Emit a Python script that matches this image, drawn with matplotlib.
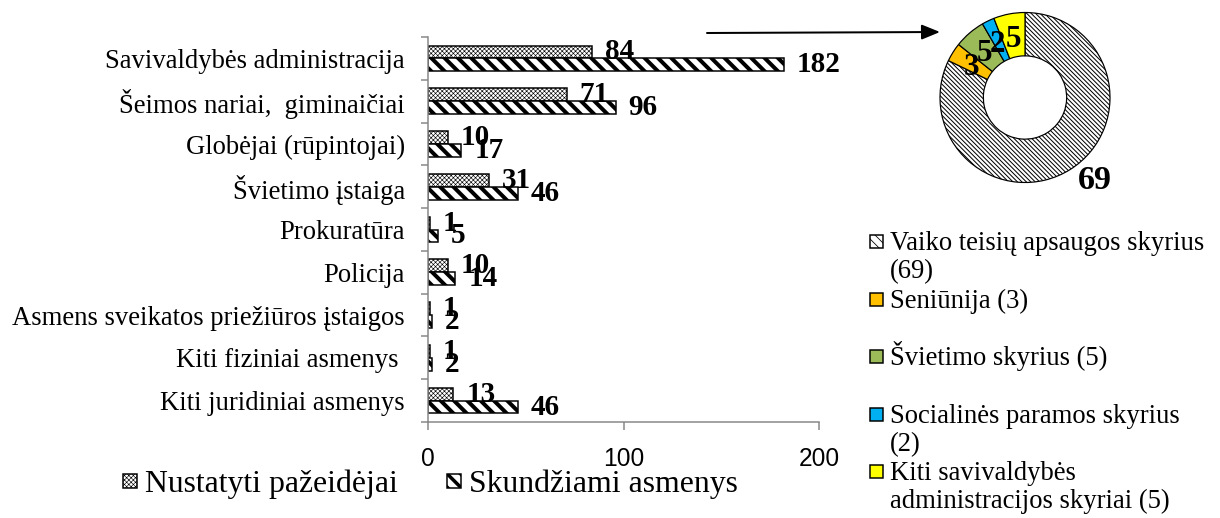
import matplotlib
matplotlib.use("Agg")
import matplotlib.pyplot as plt
from matplotlib import font_manager
from matplotlib.patches import Rectangle, FancyArrowPatch
import numpy as np

# ---------------- data ----------------
categories = ["Savivaldybės administracija", "Šeimos nariai,  giminaičiai",
              "Globėjai (rūpintojai)", "Švietimo įstaiga", "Prokuratūra",
              "Policija", "Asmens sveikatos priežiūros įstaigos",
              "Kiti fiziniai asmenys ", "Kiti juridiniai asmenys"]
nustatyti = [84, 71, 10, 31, 1, 10, 1, 1, 13]
skundziami = [182, 96, 17, 46, 5, 14, 2, 2, 46]
series_names = ["Nustatyti pažeidėjai", "Skundžiami asmenys"]
x_ticks = [0, 100, 200]

pie_names = ["Vaiko teisių apsaugos skyrius\n(69)", "Seniūnija (3)",
             "Švietimo skyrius (5)", "Socialinės paramos skyrius\n(2)",
             "Kiti savivaldybės\nadministracijos skyriai (5)"]
pie_values = [69, 3, 5, 2, 5]
pie_colors = ["white", "#FFC000", "#9BBB59", "#00B0F0", "#FFFF00"]

# ---------------- helpers ----------------
DPI = 80
W, H = 1220, 518


def fx(px):
    return px / W


def fy(py):
    return 1 - py / H


def pt(px):
    return px * 72.0 / DPI


def pick(*names):
    for n in names:
        try:
            font_manager.findfont(font_manager.FontProperties(family=n),
                                  fallback_to_default=False)
            return n
        except Exception:
            continue
    return "DejaVu Sans"


SERIF = pick("Liberation Serif", "DejaVu Serif")
NARROW = pick("Liberation Sans Narrow", "Liberation Sans", "DejaVu Sans")
plt.rcParams["font.family"] = [SERIF, "DejaVu Sans"]
GRAY = "#868686"
DOTS = "xxxxxx"
STRIPES = "\\\\"
FINE = "\\\\\\\\\\\\"


def hatch_lw(artist, lw):
    if hasattr(artist, "set_hatch_linewidth"):
        artist.set_hatch_linewidth(lw)


fig = plt.figure(figsize=(W / DPI, H / DPI), dpi=DPI)

# ---------------- bar chart ----------------
ax = fig.add_axes([fx(428), fy(422), (819 - 428) / W, (422 - 37) / H])
y = np.arange(len(categories))
h = 0.30
b1 = ax.barh(y - h / 2, nustatyti, height=h, facecolor="white",
             edgecolor="black", hatch=DOTS, linewidth=pt(1.5))
b2 = ax.barh(y + h / 2, skundziami, height=h, facecolor="white",
             edgecolor="black", hatch=STRIPES, linewidth=pt(1.5))
for p in b1:
    hatch_lw(p, pt(0.6))
for p in b2:
    hatch_lw(p, pt(4.0))

for cont in (b1, b2):
    ax.bar_label(cont, padding=pt(13), fontsize=pt(29.3), fontweight="bold",
                 family=SERIF)

ax.set_xlim(0, 200)
ax.set_ylim(len(categories) - 0.5, -0.5)
ax.set_yticks(y)
ax.set_yticklabels(categories, fontsize=pt(26.6))
ax.set_yticks(np.arange(-0.5, len(categories), 1), minor=True)
ax.tick_params(axis="y", which="major", length=0, pad=pt(23))
ax.tick_params(axis="y", which="minor", length=pt(7), width=pt(1.5), color=GRAY)
ax.set_xticks(x_ticks)
ax.set_xticklabels([str(t) for t in x_ticks], fontsize=pt(24.5), family=NARROW)
ax.tick_params(axis="x", length=pt(8), width=pt(1.5), color=GRAY, pad=pt(17))
for s in ("top", "right"):
    ax.spines[s].set_visible(False)
for s in ("left", "bottom"):
    ax.spines[s].set_color(GRAY)
    ax.spines[s].set_linewidth(pt(1.5))

# bottom legend (manual)
leg_hatches = [DOTS, STRIPES]
leg_lws = [0.6, 3.5]
leg_x = [123, 447]
for name, hx, lw, x0 in zip(series_names, leg_hatches, leg_lws, leg_x):
    r = Rectangle((fx(x0), fy(488)), 14 / W, 14 / H, transform=fig.transFigure,
                  facecolor="white", edgecolor="black", hatch=hx,
                  linewidth=pt(1.5))
    hatch_lw(r, pt(lw))
    fig.patches.append(r)
    fig.text(fx(x0 + 22), fy(492), name, fontsize=pt(31.8), va="baseline",
             ha="left")

# ---------------- doughnut ----------------
cx, cy, R = 1025, 97.5, 85
pax = fig.add_axes([fx(cx - R), fy(cy + R), 2 * R / W, 2 * R / H])
wedges, _ = pax.pie(pie_values, colors=pie_colors, startangle=90,
                    counterclock=False, radius=1,
                    wedgeprops=dict(width=0.51, edgecolor="black",
                                    linewidth=pt(1.2)))
wedges[0].set_hatch(FINE)
hatch_lw(wedges[0], pt(1.0))
pax.set_xlim(-1, 1)
pax.set_ylim(-1, 1)
pax.set_aspect("equal")
for i, (w, v) in enumerate(zip(wedges, pie_values)):
    ang = np.deg2rad((w.theta1 + w.theta2) / 2)
    if i == 0:
        ang += np.deg2rad(8)
        pax.text(1.28 * np.cos(ang), 1.28 * np.sin(ang), str(v), ha="center",
                 va="center", fontsize=pt(34), fontweight="bold")
    else:
        pax.text(0.74 * np.cos(ang), 0.74 * np.sin(ang), str(v), ha="center",
                 va="center_baseline", fontsize=pt(31), fontweight="bold")

# arrow
arr = FancyArrowPatch((fx(707), fy(33)), (fx(940), fy(32)),
                      transform=fig.transFigure,
                      arrowstyle="-|>,head_length=1.1,head_width=0.45",
                      mutation_scale=pt(14), linewidth=pt(2), color="black",
                      shrinkA=0, shrinkB=0)
fig.patches.append(arr)

# doughnut legend (manual)
for i, (name, col) in enumerate(zip(pie_names, pie_colors)):
    yc = 241.5 + i * 57.6
    r = Rectangle((fx(870), fy(yc + 6.5)), 13 / W, 13 / H,
                  transform=fig.transFigure, facecolor=col, edgecolor="black",
                  linewidth=pt(1.5), hatch="\\\\\\" if i == 0 else None)
    hatch_lw(r, pt(0.8))
    fig.patches.append(r)
    for j, line in enumerate(name.split("\n")):
        fig.text(fx(890), fy(yc + 8.5 + j * 28), line, fontsize=pt(26.6),
                 va="baseline", ha="left")

fig.savefig("out.png", dpi=DPI)
